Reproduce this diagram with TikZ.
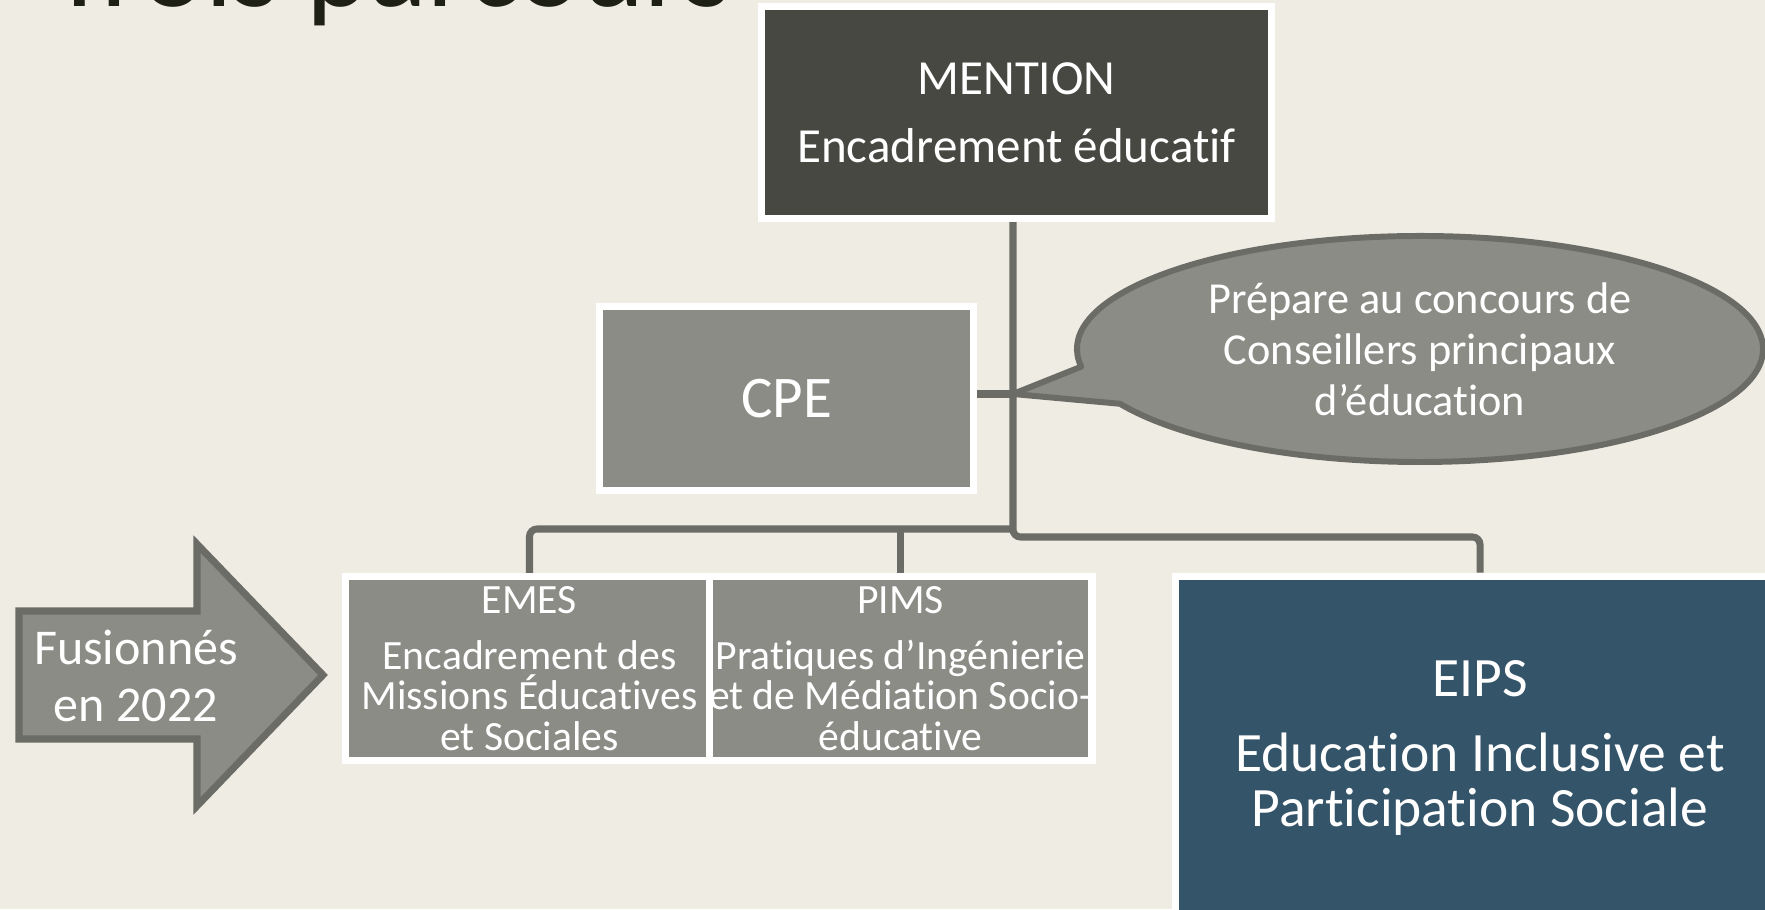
\documentclass[tikz,border=0pt]{standalone}
\usepackage{fontspec}
\setmainfont[Ligatures=NoCommon]{Carlito}
\usetikzlibrary{backgrounds,calc}
\definecolor{paper}{RGB}{239,236,228}
\definecolor{ink}{RGB}{30,32,22}
\definecolor{darkbox}{RGB}{72,72,67}
\definecolor{stone}{RGB}{140,140,134}
\definecolor{wire}{RGB}{107,108,102}
\definecolor{slate}{RGB}{52,84,105}

\begin{document}
\begin{tikzpicture}[box/.style={draw=white,line width=4pt,inner sep=0pt,align=center,text=white},
    link/.style={draw=wire,line width=4pt},
    bubble/.style={draw=wire,fill=stone,line width=3.4pt,line join=round},
    label/.style={inner sep=0pt,align=center,text=white}]
        \useasboundingbox (0,0) rectangle (35.3,18.18);
        \node[anchor=base west,inner sep=0pt,text=ink,font={\fontsize{68.5}{72}\selectfont}] (title) at (1.0,18.04) {Trois parcours};
        \path
          (20.33,15.93) node[box,fill=darkbox,minimum width=10.2cm,minimum height=4.24cm,font={\fontsize{27.9}{38.7}\selectfont}] (mention) {MENTION\\Encadrement éducatif}
          (15.73,10.21) node[box,fill=stone,minimum width=7.48cm,minimum height=3.68cm,font={\fontsize{33.6}{38}\selectfont}] (cpe) {CPE}
          (10.59,4.81)  node[box,fill=stone,minimum width=7.36cm,minimum height=3.68cm,font={\fontsize{23.7}{23}\selectfont}] (emes) {EMES\\[8.9pt]Encadrement des\\Missions Éducatives\\et Sociales}
          (18.01,4.81)  node[box,fill=stone,minimum width=7.48cm,minimum height=3.68cm,font={\fontsize{23.7}{23}\selectfont}] (pims) {PIMS\\[8.9pt]Pratiques d’Ingénierie\\et de Médiation Socio-\\éducative}
          (29.6,3.23)   node[box,fill=slate,minimum width=12.18cm,minimum height=6.85cm,font={\fontsize{31.6}{31.3}\selectfont}] (eips) {EIPS\\[11.4pt]Education Inclusive et\\Participation Sociale};
        \coordinate (tip)   at (20.26,10.3);
        \coordinate (split) at (20.26,7.6);
        \coordinate (bend)  at (20.26,7.44);
        \coordinate (noteC) at (28.4,11.2);
        % connectors behind the boxes
        \begin{scope}[on background layer]
          \fill[paper] (0,0) rectangle (35.3,18.18);
          \draw[link,rounded corners=0.15cm] (mention.south -| bend) -- (bend) -| (eips.north);
          \draw[link] (cpe.east |- tip) -- (tip);
          \draw[link,rounded corners=0.15cm] (split) -| (emes.north);
          \draw[link] (split -| pims.north) -- (pims.north);
        \end{scope}
        % speech bubble
        \draw[bubble] (tip) -- ($(noteC)+(189:6.86 and 2.26)$) arc[start angle=189,end angle=-151,x radius=6.86,y radius=2.26] -- cycle;
        \node[label,font={\fontsize{25.2}{29}\selectfont}] (note) at (noteC) {Prépare au concours de\\Conseillers principaux\\d’éducation};
        % merge arrow
        \draw[draw=wire,fill=stone,line width=4pt]
          (0.38,5.96) -- (3.94,5.96) -- (3.94,7.30) -- (6.46,4.68) -- (3.94,2.06) -- (3.94,3.40) -- (0.38,3.40) -- cycle;
        \node[label,font={\fontsize{28.5}{32.4}\selectfont}] (merge) at (2.72,4.66) {Fusionnés\\en 2022};
      \end{tikzpicture}
\end{document}
